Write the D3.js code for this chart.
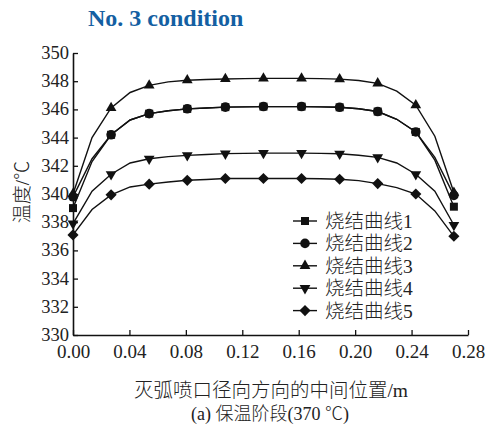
<!DOCTYPE html>
<html>
<head>
<meta charset="utf-8">
<script src="https://cdn.jsdelivr.net/npm/d3@7"></script>
<style>
  html, body { margin: 0; padding: 0; background: #fff; }
  svg { display: block; }
  .num { font-family: "Liberation Serif", "Times New Roman", serif; }
  .cjk { font-family: "Liberation Serif", "Noto Sans CJK SC", serif; font-weight: 300; }
</style>
</head>
<body>
<svg id="chart" width="488" height="425"></svg>
<script>
// Radial position across the arc-quenching nozzle (m)
const positions = [0, 0.0135, 0.027, 0.0405, 0.054, 0.0675, 0.081, 0.0945, 0.108, 0.1215,
                   0.135, 0.1485, 0.162, 0.1755, 0.189, 0.2025, 0.216, 0.2295, 0.243, 0.2565, 0.27];

// Temperature (°C) along each sintering curve
const curve1 = [339.0, 342.3, 344.2, 345.25, 345.7, 345.9, 346.04, 346.1, 346.16, 346.18,
                346.2, 346.2, 346.2, 346.18, 346.15, 346.05, 345.85, 345.3, 344.4, 342.4, 339.1];
const curve2 = [339.8, 342.5, 344.2, 345.25, 345.7, 345.9, 346.04, 346.1, 346.16, 346.18,
                346.2, 346.2, 346.2, 346.18, 346.15, 346.05, 345.85, 345.3, 344.4, 342.6, 339.9];
const curve3 = [340.0, 344.0, 346.1, 347.2, 347.7, 347.95, 348.07, 348.12, 348.16, 348.18,
                348.2, 348.2, 348.2, 348.18, 348.15, 348.05, 347.85, 347.3, 346.3, 344.1, 340.1];
const curve4 = [337.9, 340.2, 341.4, 342.2, 342.5, 342.65, 342.74, 342.8, 342.86, 342.88,
                342.9, 342.9, 342.9, 342.88, 342.85, 342.75, 342.6, 342.2, 341.4, 340.2, 337.8];
const curve5 = [337.1, 338.9, 339.94, 340.5, 340.7, 340.85, 340.97, 341.03, 341.1, 341.1,
                341.1, 341.1, 341.1, 341.08, 341.05, 340.95, 340.74, 340.45, 340.0, 338.8, 337.0];

const seriesNames = ["烧结曲线1", "烧结曲线2", "烧结曲线3", "烧结曲线4", "烧结曲线5"];
const seriesValues = [curve1, curve2, curve3, curve4, curve5];

const xTicks = [0, 0.04, 0.08, 0.12, 0.16, 0.20, 0.24, 0.28];
const yTicks = [330, 332, 334, 336, 338, 340, 342, 344, 346, 348, 350];

const titleText = "No. 3 condition";
const xLabel = "灭弧喷口径向方向的中间位置/m";
const yLabel = "温度/℃";
const captionText = "(a) 保温阶段(370 ℃)";

const svg = d3.select("#chart");

const x = d3.scaleLinear().domain([0, 0.28]).range([73, 468]);
const y = d3.scaleLinear().domain([330, 350]).range([335, 53]);

// Marker shapes per curve
const markerDefs = [
  { type: d3.symbolSquare, size: 64, rotate: 0 },
  { type: d3.symbolCircle, size: 72, rotate: 0 },
  { type: d3.symbolTriangle, size: 50, rotate: 0 },
  { type: d3.symbolTriangle, size: 50, rotate: 180 },
  { type: d3.symbolSquare, size: 62, rotate: 45 }
];

// Title
svg.append("text")
  .attr("class", "num")
  .attr("x", 88).attr("y", 26)
  .attr("font-size", 24).attr("font-weight", "bold")
  .attr("fill", "#145fa2")
  .text(titleText);

// Axes with inward ticks
const yAxis = d3.axisLeft(y).tickValues(yTicks).tickFormat(d3.format("d"))
  .tickSizeInner(-5).tickSizeOuter(0).tickPadding(4);
const xAxis = d3.axisBottom(x).tickValues(xTicks).tickFormat(d3.format(".2f"))
  .tickSizeInner(-5).tickSizeOuter(0).tickPadding(10);

const gy = svg.append("g").attr("transform", "translate(73,0)").call(yAxis);
const gx = svg.append("g").attr("transform", "translate(0,335)").call(xAxis);

[gx, gy].forEach(g => {
  g.select(".domain").attr("stroke", "#111").attr("stroke-width", 1.6);
  g.selectAll(".tick line").attr("stroke", "#111").attr("stroke-width", 1.3);
  g.selectAll(".tick text")
    .attr("class", "num")
    .attr("font-size", 19)
    .attr("fill", "#222");
});
gy.selectAll(".tick text").attr("font-size", 18.5).attr("dy", "0.3em");

// Curves
const line = d3.line()
  .x((d, i) => x(positions[i]))
  .y(d => y(d));

const plot = svg.append("g");
seriesValues.forEach(vals => {
  plot.append("path")
    .datum(vals)
    .attr("fill", "none")
    .attr("stroke", "#111")
    .attr("stroke-width", 1.4)
    .attr("d", line);
});
seriesValues.forEach((vals, si) => {
  const m = markerDefs[si];
  const sym = d3.symbol().type(m.type).size(m.size);
  plot.selectAll(null)
    .data(vals.map((v, i) => ({ v, i })).filter(d => d.i % 2 === 0))
    .enter().append("path")
    .attr("d", sym)
    .attr("fill", "#111")
    .attr("transform", d => `translate(${x(positions[d.i])},${y(d.v)}) rotate(${m.rotate})`);
});

// Legend
const legend = svg.append("g");
const legendY0 = 221, legendStep = 22.4;
seriesNames.forEach((name, si) => {
  const ly = legendY0 + si * legendStep;
  const m = markerDefs[si];
  legend.append("line")
    .attr("x1", 293).attr("x2", 317).attr("y1", ly).attr("y2", ly)
    .attr("stroke", "#111").attr("stroke-width", 1.4);
  legend.append("path")
    .attr("d", d3.symbol().type(m.type).size(m.size))
    .attr("fill", "#111")
    .attr("transform", `translate(305,${ly}) rotate(${m.rotate})`);
  legend.append("text")
    .attr("class", "cjk")
    .attr("x", 325).attr("y", ly + 7)
    .attr("font-size", 19.5)
    .attr("fill", "#222")
    .text(name);
});

// Axis titles
svg.append("text")
  .attr("class", "cjk")
  .attr("text-anchor", "middle")
  .attr("x", 271).attr("y", 397)
  .attr("font-size", 19.5)
  .attr("fill", "#222")
  .text(xLabel);

svg.append("text")
  .attr("class", "cjk")
  .attr("text-anchor", "middle")
  .attr("transform", "translate(29,192) rotate(-90)")
  .attr("font-size", 19)
  .attr("fill", "#222")
  .text(yLabel);

// Caption
svg.append("text")
  .attr("class", "cjk")
  .attr("text-anchor", "middle")
  .attr("x", 270).attr("y", 420)
  .attr("font-size", 18)
  .attr("fill", "#222")
  .text(captionText);
</script>
</body>
</html>
